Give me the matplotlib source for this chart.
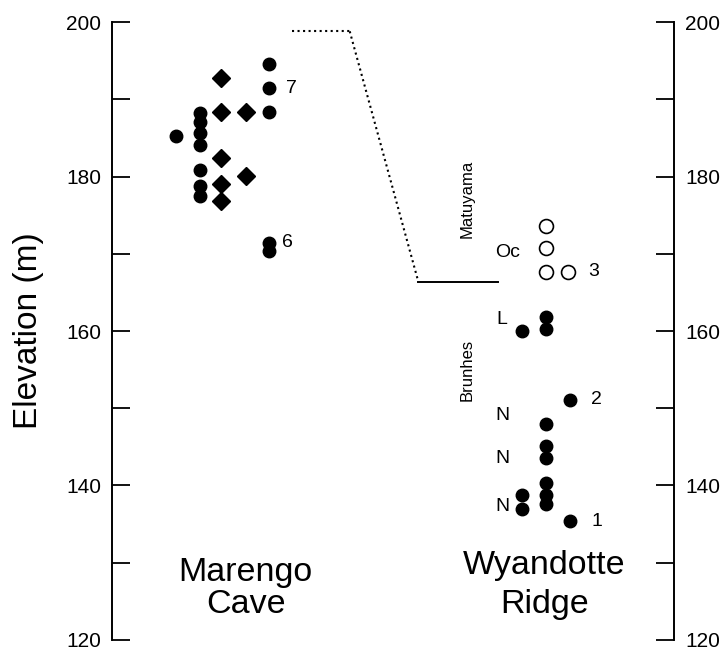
import matplotlib.pyplot as plt
from matplotlib.ticker import MultipleLocator

plt.rcParams['font.family'] = ['Liberation Sans', 'DejaVu Sans']

# Marengo Cave - filled circles (x column, elevation m)
mc_circle_x = [11.4, 15.7, 15.7, 15.7, 15.7, 15.7, 15.7, 15.7, 27.9, 27.9, 27.9, 27.9, 27.9]
mc_circle_y = [185.2, 188.2, 187.0, 185.6, 184.1, 180.8, 178.8, 177.5, 194.6, 191.4, 188.4, 171.4, 170.4]
# Marengo Cave - diamonds
mc_diam_x = [19.4, 19.4, 23.8, 19.4, 23.8, 19.4, 19.4]
mc_diam_y = [192.8, 188.3, 188.3, 182.4, 180.1, 179.0, 176.8]

# Wyandotte Ridge - filled circles
wr_circle_x = [77.2, 77.2, 73.0, 81.5, 77.2, 77.2, 77.2, 77.2, 77.2, 77.2, 73.0, 73.0, 81.5]
wr_circle_y = [161.8, 160.3, 160.0, 151.1, 147.9, 145.1, 143.5, 140.3, 138.8, 137.6, 138.8, 137.0, 135.4]
# Wyandotte Ridge - open circles
wr_open_x = [77.2, 77.2, 77.2, 81.1]
wr_open_y = [173.6, 170.7, 167.7, 167.7]

# correlation line
corr_x = [32.1, 42.3]
corr_y = [198.8, 198.8]
slope_x = [42.3, 54.5]
slope_y = [198.8, 166.4]
bound_x = [54.5, 68.7]
bound_y = [166.4, 166.4]

# point labels
num_labels = ['7', '6', '3', '2', '1']
num_x = [31.0, 30.2, 84.8, 85.3, 85.3]
num_y = [191.4, 171.4, 167.7, 151.1, 135.4]
pol_labels = ['Oc', 'L', 'N', 'N', 'N']
pol_x = [70.4, 69.4, 69.4, 69.4, 69.4]
pol_y = [170.2, 161.5, 149.1, 143.5, 137.3]

fig = plt.figure(figsize=(7.24, 6.51), dpi=100)
ax = fig.add_axes([0.1547, 0.0169, 0.7762, 0.9493])
ax.set_xlim(0, 100)
ax.set_ylim(120, 200)

ax.plot(mc_circle_x, mc_circle_y, 'o', color='black', ms=9, clip_on=False)
ax.plot(mc_diam_x, mc_diam_y, 'D', color='black', ms=9.5, clip_on=False)
ax.plot(wr_circle_x, wr_circle_y, 'o', color='black', ms=9, clip_on=False)
ax.plot(wr_open_x, wr_open_y, 'o', mfc='white', mec='black', mew=1.2, ms=10, clip_on=False)

ax.plot(corr_x, corr_y, ':', color='black', lw=1.5)
ax.plot(slope_x, slope_y, ':', color='black', lw=1.5)
ax.plot(bound_x, bound_y, '-', color='black', lw=1.4)

for t, x, y in zip(num_labels, num_x, num_y):
    ax.text(x, y, t, fontsize=14, ha='left', va='center')
for t, x, y in zip(pol_labels, pol_x, pol_y):
    ax.text(x, y, t, fontsize=14, ha='center', va='center')

ax.text(63.2, 177.1, 'Matuyama', rotation=90, fontsize=12, ha='center', va='center')
ax.text(63.2, 155.0, 'Brunhes', rotation=90, fontsize=12, ha='center', va='center')

ax.text(23.8, 127.6, 'Marengo', fontsize=24.5, ha='center', va='baseline')
ax.text(23.8, 123.5, 'Cave', fontsize=24.5, ha='center', va='baseline')
ax.text(76.9, 128.5, 'Wyandotte', fontsize=24.5, ha='center', va='baseline')
ax.text(76.9, 123.5, 'Ridge', fontsize=24.5, ha='center', va='baseline')

for s in ['top', 'bottom']:
    ax.spines[s].set_visible(False)
for s in ['left', 'right']:
    ax.spines[s].set_linewidth(1.4)

ax.set_xticks([])
ax.yaxis.set_major_locator(MultipleLocator(20))
ax.yaxis.set_minor_locator(MultipleLocator(10))
ax.tick_params(axis='y', which='both', direction='in', length=13, width=1.3,
               left=True, right=True, labelleft=True, labelright=True, labelsize=15, pad=8)
ax.tick_params(axis='y', which='minor', labelleft=False, labelright=False)

ax.set_ylabel('Elevation (m)', fontsize=24, labelpad=16)

fig.savefig('out.png', dpi=100)
